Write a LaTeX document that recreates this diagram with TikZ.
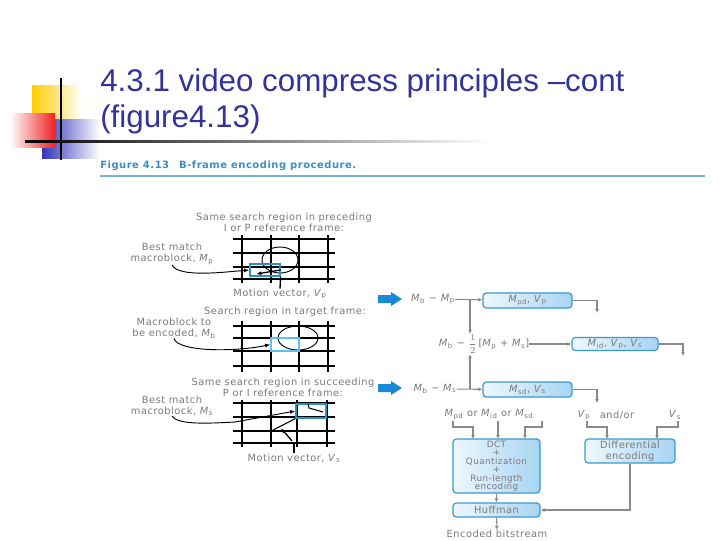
\documentclass[tikz,border=0pt]{standalone}
\usepackage{fontspec}
\setmainfont{DejaVu Sans}[LetterSpace=5]
\newfontfamily\titlefont{Liberation Sans}
\usetikzlibrary{arrows.meta}

\definecolor{titleblue}{HTML}{333399}
\definecolor{capblue}{HTML}{3C8FC4}
\definecolor{figgray}{HTML}{7A7A7A}
\definecolor{linegray}{HTML}{8A8A8A}
\definecolor{mbblue}{HTML}{2F8FC0}
\definecolor{mbcyan}{HTML}{5CC0EE}
\definecolor{boxedge}{HTML}{3A9AD0}
\definecolor{boxlight}{HTML}{EEF7FD}
\definecolor{boxdark}{HTML}{A8D4F2}
\definecolor{bigarrow}{HTML}{1A8AD8}
\definecolor{decoyellow}{HTML}{FFCC00}
\definecolor{decored}{HTML}{F02020}
\definecolor{decoblue}{HTML}{3333BB}

\newcommand{\Mv}[1]{\textit{M}\textsubscript{#1}}
\newcommand{\Vv}[1]{\textit{V}\textsubscript{#1}}

\begin{document}
\begin{tikzpicture}[x=0.75pt, y=-0.75pt, font=\fontsize{7.4}{8.2}\selectfont, >={Latex[length=3pt,width=3pt]},
  lab/.style={text=figgray, align=center, inner sep=0pt},
  stage/.style={draw=boxedge, line width=0.9pt, rounded corners=2.5pt,
    left color=boxlight, right color=boxdark, text=figgray, align=center, inner sep=1pt},
  link/.style={draw=linegray, line width=0.8pt, ->},
  gridv/.style={line width=1.5pt},
  gridh/.style={line width=1.1pt},
  mbox/.style={draw=mbblue, line width=0.9pt, inner sep=0pt, minimum width=22.5pt, minimum height=9pt},
  pointer/.style={line width=0.7pt, -{Latex[length=4pt,width=3pt]}}]

  \fill[white] (0,0) rectangle (720,540);
  \useasboundingbox (0,0) rectangle (720,540);

  % title decoration
  \shade[left color=decoyellow, right color=white] (32,85) rectangle (82,121);
  \shade[left color=decoblue, right color=white] (42,119) rectangle (100,158);
  \shade[left color=white, right color=decored] (10,113) rectangle (55,147);
  \draw[line width=1.5pt] (61,78) -- (61,160);
  \shade[left color=black, right color=white] (25,140) rectangle (490,142.5);

  \node[anchor=base west, inner sep=0pt, text=titleblue, font=\titlefont\fontsize{23.5}{28}\selectfont]
    (title1) at (100,91) {4.3.1 video compress principles –cont};
  \node[anchor=base west, inner sep=0pt, text=titleblue, font=\titlefont\fontsize{23.5}{28}\selectfont]
    (title2) at (100,127) {(figure4.13)};

  \node[anchor=base west, inner sep=0pt, text=capblue, font=\bfseries\fontsize{7.5}{8}\selectfont]
    (caption) at (100,168) {Figure 4.13\quad B-frame encoding procedure.};
  \draw[capblue!70, line width=0.8pt] (100,176) -- (705,176);

  % search regions
  \foreach \gx in {242,271,299,328} \draw[gridv] (\gx,235) -- (\gx,283);
  \foreach \gy in {239,253,267,279} \draw[gridh] (233,\gy) -- (335,\gy);
  \foreach \gx in {242,271,299,328} \draw[gridv] (\gx,321) -- (\gx,372);
  \foreach \gy in {326,338,351,366} \draw[gridh] (233,\gy) -- (335,\gy);
  \foreach \gx in {242,271,297,327} \draw[gridv] (\gx,400) -- (\gx,447);
  \foreach \gy in {403,417,431,443} \draw[gridh] (233,\gy) -- (335,\gy);

  \draw[line width=0.7pt] (280,260) ellipse [x radius=13.5pt, y radius=9.75pt];
  \draw[line width=0.7pt] (298,338) ellipse [x radius=15pt, y radius=9pt];

  \node[mbox] (mbp) at (265,270) {};
  \node[mbox, draw=mbcyan, minimum width=21pt, minimum height=9.75pt] (mbb) at (285,344.5) {};
  \node[mbox, minimum height=10.5pt] (mbs) at (311,411) {};

  \node[lab] (prevreg) at (284,222) {Same search region in preceding\\I or P reference frame:};
  \node[lab] (bestp) at (172,254) {Best match\\macroblock, \Mv{p}};
  \node[lab] (mvp) at (280,294) {Motion vector, \Vv{p}};
  \node[lab] (tgtreg) at (285,312) {Search region in target frame:};
  \node[lab] (tobeb) at (174,328) {Macroblock to\\be encoded, \Mv{b}};
  \node[lab] (succreg) at (283,387) {Same search region in succeeding\\P or I reference frame:};
  \node[lab] (bests) at (172,406) {Best match\\macroblock, \Mv{s}};
  \node[lab] (mvs) at (294,458) {Motion vector, \Vv{s}};

  \draw[pointer] (bestp.south) .. controls (178,278) and (225,272) .. (mbp.west);
  \draw[pointer] (tobeb.south) .. controls (178,352) and (235,352) .. (mbb.west);
  \draw[pointer] (bests.south) .. controls (178,424) and (200,424) .. (235,422) -- (mbs.west);

  \coordinate (mvptip) at (256,274);
  \draw[pointer, line width=1pt] (mbp.east) -- (mvptip);
  \draw[line width=1pt] (mvp.north) -- (mbp.south east);
  \coordinate (mvsend) at (273,430);
  \coordinate (mvstail) at (292,441);
  \coordinate (mvstip) at (281,428);
  \draw[line width=0.8pt] (mbs.south west) -- (mvsend);
  \draw[pointer, line width=1pt] (mvstail) -- (mvstip);
  \draw[line width=1pt] (mvs.north) -- ++(0,-9);
  \draw[line width=0.8pt] (308,404) -- (309,408) -- (323,412);

  % difference paths
  \foreach \ay in {299,388}
    \fill[bigarrow] (378,\ay-4) -- (391,\ay-4) -- (391,\ay-7) -- (402,\ay)
      -- (391,\ay+7) -- (391,\ay+4) -- (378,\ay+4) -- cycle;

  \node[lab] (dp) at (433,299) {\Mv{b} − \Mv{p}};
  \node[stage, minimum width=66.8pt, minimum height=11.3pt] (boxp) at (527.5,300.5) {\Mv{pd}, \Vv{p}};
  \node[lab] (di) at (484,344) {\Mv{b} − $\displaystyle\frac{1}{2}$\,[\Mv{p} + \Mv{s}]};
  \node[stage, minimum width=64.5pt, minimum height=9.8pt] (boxi) at (615,344) {\Mv{id}, \Vv{p}, \Vv{s}};
  \node[lab] (ds) at (435,389) {\Mv{b} − \Mv{s}};
  \node[stage, minimum width=66.8pt, minimum height=11.3pt] (boxs) at (527.5,389.5) {\Mv{sd}, \Vv{s}};

  \coordinate (tapp) at (597,313);
  \coordinate (tapi) at (683,356);
  \coordinate (taps) at (597,403);
  \coordinate (brp) at (470,299);
  \coordinate (brs) at (470,389);

  \draw[link] (dp) -- (boxp);
  \draw[link] (di) -- (boxi);
  \draw[link] (ds) -- (boxs);
  \draw[link] (boxp) -| (tapp);
  \draw[link] (boxi) -| (tapi);
  \draw[link] (boxs) -| (taps);
  \draw[link] (brp) -- (brp |- di.north);
  \draw[link] (brs) -- (brs |- di.south);

  % encoding
  \node[lab] (sel) at (489,415) {\Mv{pd} or \Mv{id} or \Mv{sd}};
  \node[lab] (vp) at (584,415) {\Vv{p}};
  \node[lab] (andor) at (617,415) {and/or};
  \node[lab] (vs) at (675,415) {\Vv{s}};

  \node[stage, minimum width=65.3pt, minimum height=40.5pt, font=\fontsize{6.6}{6.4}\selectfont]
    (dct) at (496.5,466) {DCT\\+\\Quantization\\+\\Run-length\\encoding};
  \node[stage, minimum width=67.5pt, minimum height=18pt] (diff) at (630,451) {Differential\\encoding};
  \node[stage, minimum width=65.3pt, minimum height=10.5pt] (huff) at (496.5,510) {Huffman};
  \node[lab] (bits) at (497,534) {Encoded bitstream};

  \coordinate (tapPd) at (453,421);
  \coordinate (tapId) at (498,421);
  \coordinate (tapSd) at (542,421);
  \coordinate (tapVp) at (587,421);
  \coordinate (tapVs) at (678,421);
  \coordinate (inPd) at (473,439);
  \coordinate (inId) at (498,439);
  \coordinate (inSd) at (525,439);
  \coordinate (inVp) at (607,439);
  \coordinate (inVs) at (657,439);

  \foreach \a/\b in {tapPd/inPd, tapSd/inSd, tapVp/inVp, tapVs/inVs}
    \draw[link] (\a) -- ++(0,6) -| (\b);
  \draw[link] (tapId) -- (inId);
  \draw[link] (dct) -- (huff);
  \draw[link] (diff.south) |- (huff.east);
  \draw[link] (huff) -- (bits);
\end{tikzpicture}
\end{document}
